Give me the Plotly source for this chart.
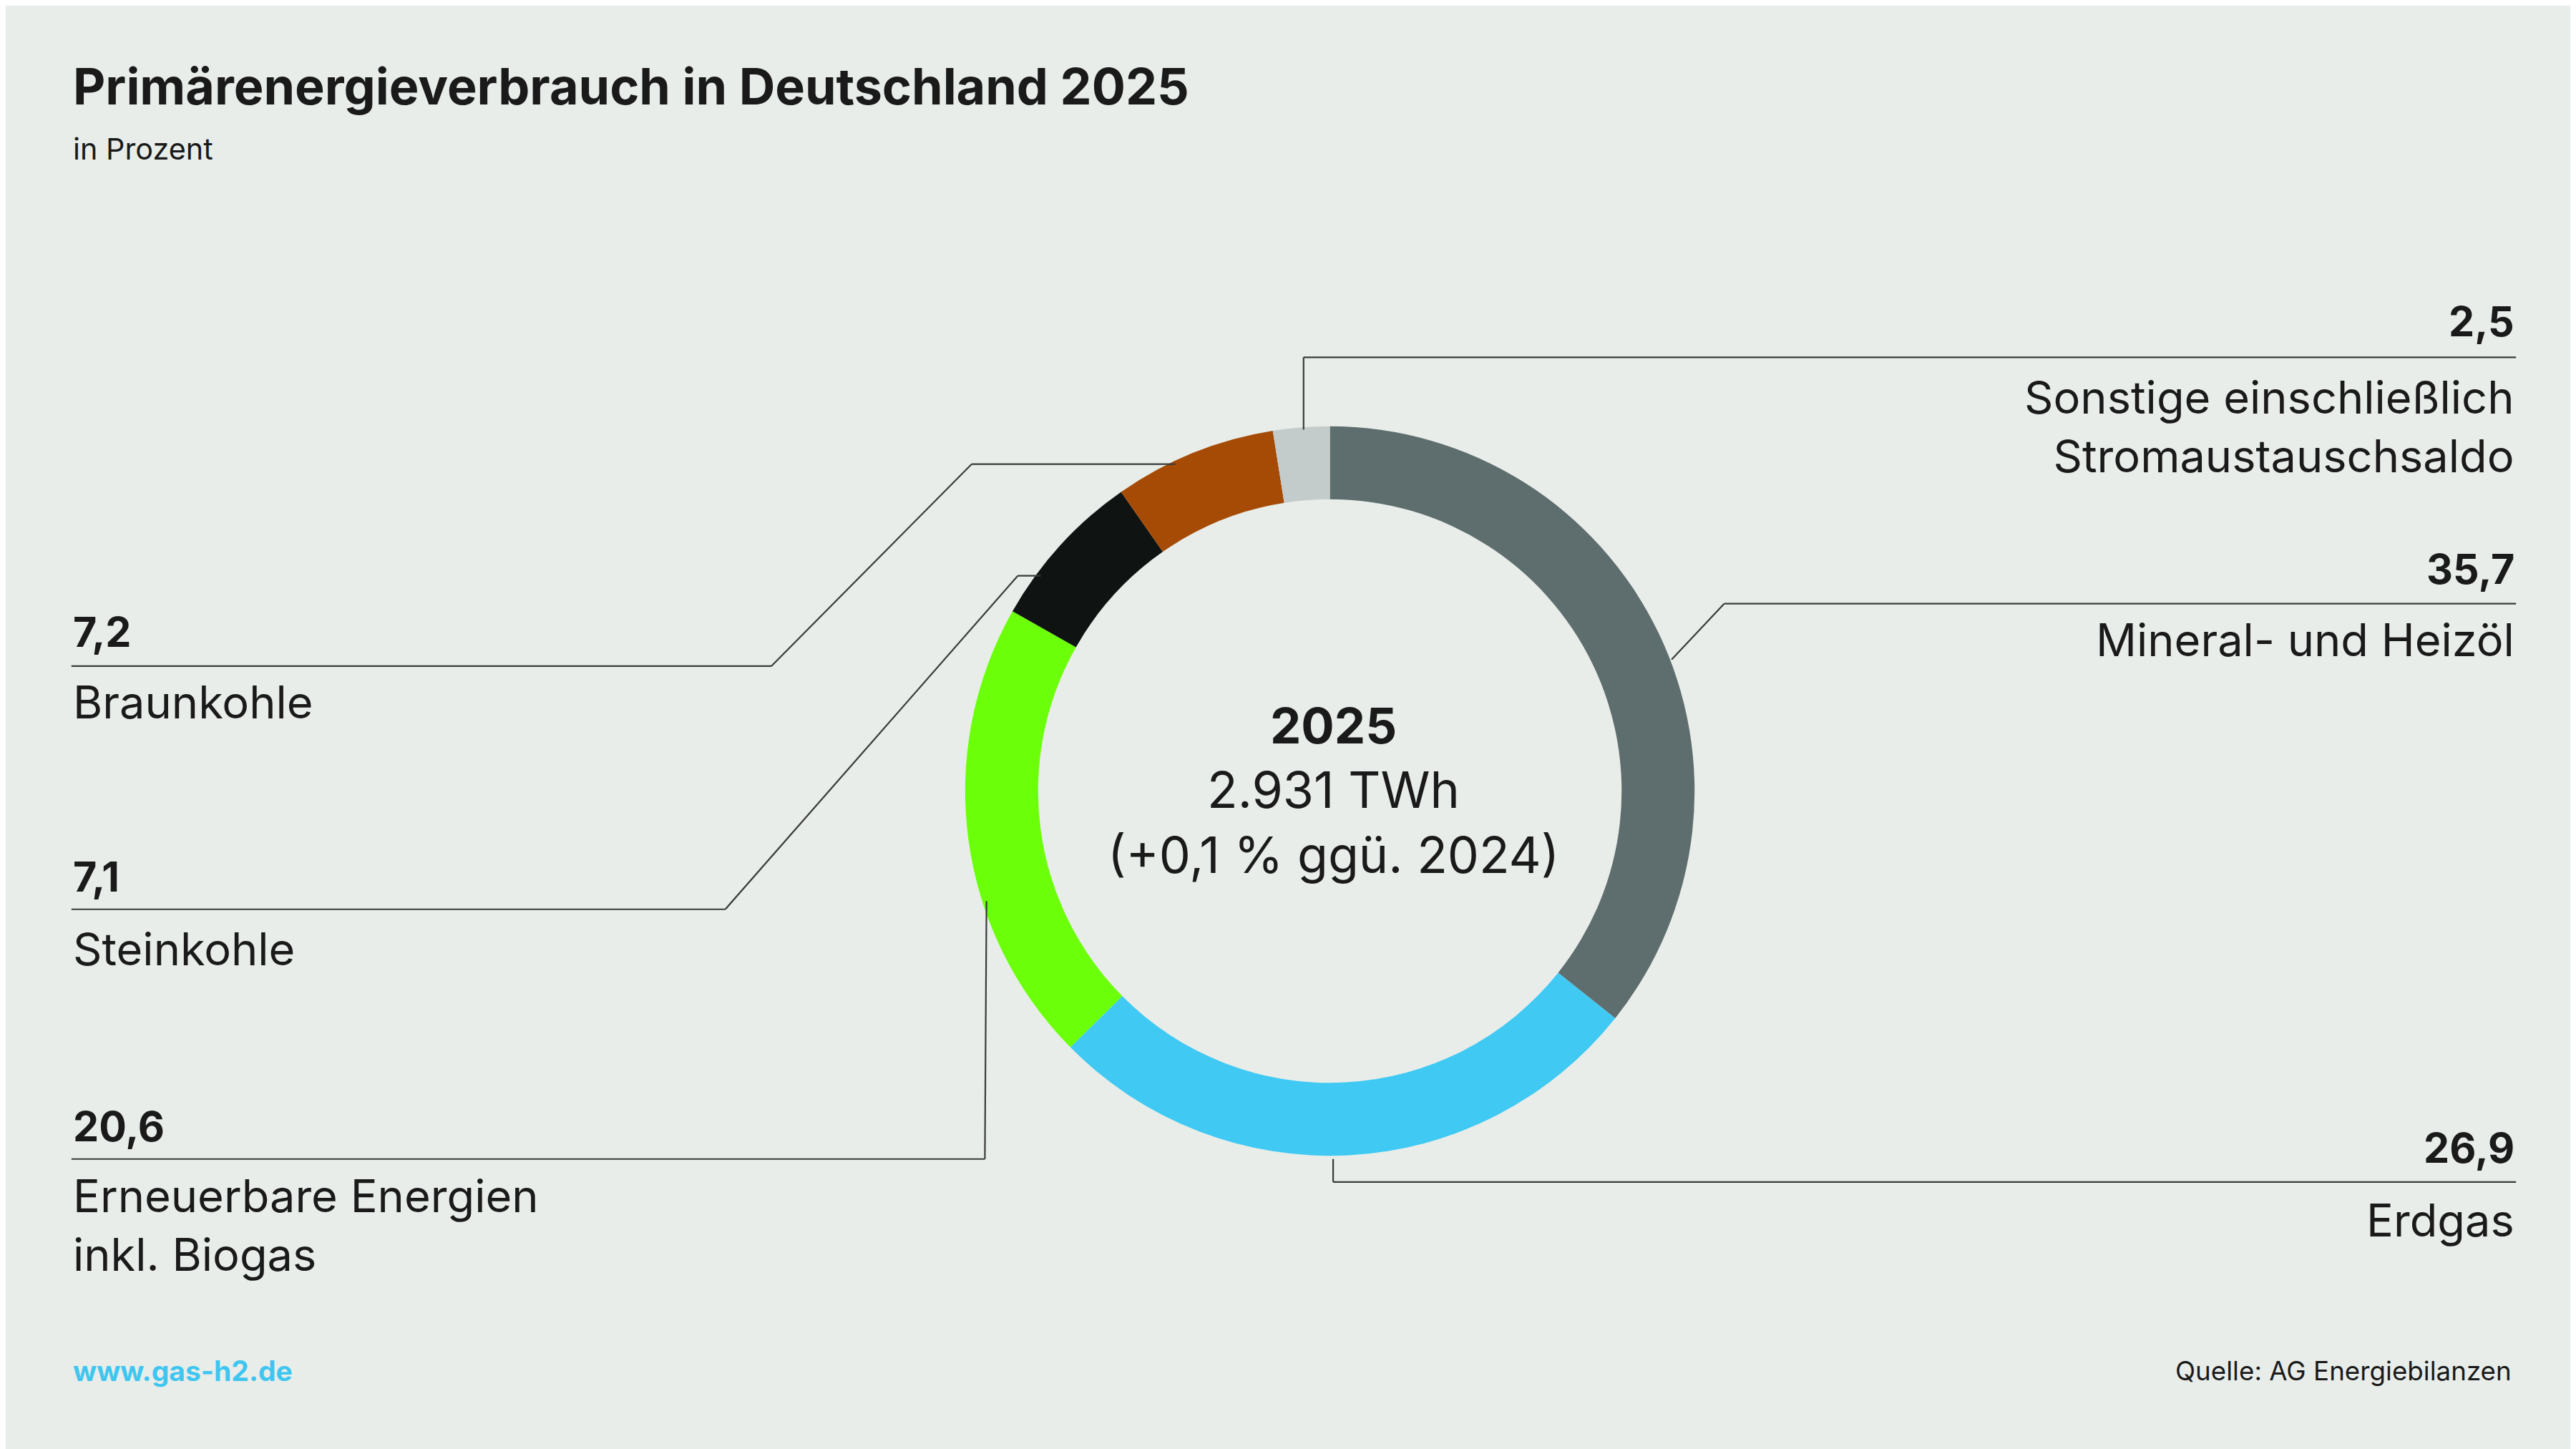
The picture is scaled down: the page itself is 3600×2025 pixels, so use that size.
import plotly.graph_objects as go

labels = ["Mineral- und Heizöl", "Erdgas", "Erneuerbare Energien inkl. Biogas",
          "Steinkohle", "Braunkohle", "Sonstige einschließlich Stromaustauschsaldo"]
values = [35.7, 26.9, 20.6, 7.1, 7.2, 2.5]
colors = ["#5e6d6d", "#40c9f3", "#6cff0a", "#0f1413", "#a64b05", "#c3cccb"]

W, H = 1568.0, 882.0  # layout drawn in reference pixel units


def px(x, y):
    return x / W, 1 - y / H


fig = go.Figure()
cx, cy, r = 806, 478, 222
x0, y1 = px(cx - r, cy - r)
x1, y0 = px(cx + r, cy + r)
fig.add_trace(go.Pie(labels=labels, values=values, hole=0.80, sort=False,
                     direction="clockwise", rotation=0,
                     marker=dict(colors=colors, line=dict(width=0)),
                     textinfo="none", hoverinfo="label+value", showlegend=False,
                     domain=dict(x=[x0, x1], y=[y0, y1])))

FONT = "Inter, Roboto, sans-serif"
S = 3600 / W

# leader lines (polylines in reference pixel coords)
leaders = [
    [(790, 258), (790, 214), (1528, 214)],
    [(1014, 398), (1046, 364), (1528, 364)],
    [(808, 702), (808, 716), (1528, 716)],
    [(712, 279), (588, 279), (466, 402), (40, 402)],
    [(630, 347), (616, 347), (438, 550), (40, 550)],
    [(597, 545), (596, 702), (40, 702)],
]
shapes = []
for pts in leaders:
    for (ax, ay), (bx, by) in zip(pts[:-1], pts[1:]):
        xa, ya = px(ax, ay)
        xb, yb = px(bx, by)
        shapes.append(dict(type="line", xref="paper", yref="paper", x0=xa, y0=ya,
                           x1=xb, y1=yb, line=dict(color="#3a3a3a", width=2.2)))

ann = []


def text(x, y, s, size, bold=False, anchor="left", color="#1a1a1a", yanchor="middle"):
    xx, yy = px(x, y)
    ann.append(dict(x=xx, y=yy, xref="paper", yref="paper", text=f"<b>{s}</b>" if bold else s,
                    showarrow=False, xanchor=anchor, yanchor=yanchor, align=anchor,
                    font=dict(family=FONT, size=size * S, color=color)))


val = 25
lab = 27.5
# right side
text(1528, 192, "2,5", val, True, "right")
text(1528, 256, "Sonstige einschließlich<br>Stromaustauschsaldo", lab, anchor="right")
text(1528, 343, "35,7", val, True, "right")
text(1528, 386, "Mineral- und Heizöl", lab, anchor="right")
text(1528, 695, "26,9", val, True, "right")
text(1528, 739, "Erdgas", lab, anchor="right")
# left side
text(40, 381, "7,2", val, True)
text(40, 424, "Braunkohle", lab)
text(40, 530, "7,1", val, True)
text(40, 574, "Steinkohle", lab)
text(40, 682, "20,6", val, True)
text(40, 742, "Erneuerbare Energien<br>inkl. Biogas", lab)
# center
text(808, 438, "2025", 30, True, "center")
text(808, 477, "2.931 TWh", 30.5, anchor="center")
text(808, 517, "(+0,1 % ggü. 2024)", 30.5, anchor="center")
# title etc
text(40, 49, "Primärenergieverbrauch in Deutschland 2025", 30.5, True)
text(40, 87, "in Prozent", 18)
text(40, 831, "www.gas-h2.de", 17, True, color="#3fc6f0")
text(1526, 831, "Quelle: AG Energiebilanzen", 16, anchor="right")

fig.update_layout(width=3600, height=2025, margin=dict(l=0, r=0, t=0, b=0),
                  paper_bgcolor="#e8edea", plot_bgcolor="#e8edea",
                  shapes=shapes, annotations=ann)
fig.write_html("out.html")
